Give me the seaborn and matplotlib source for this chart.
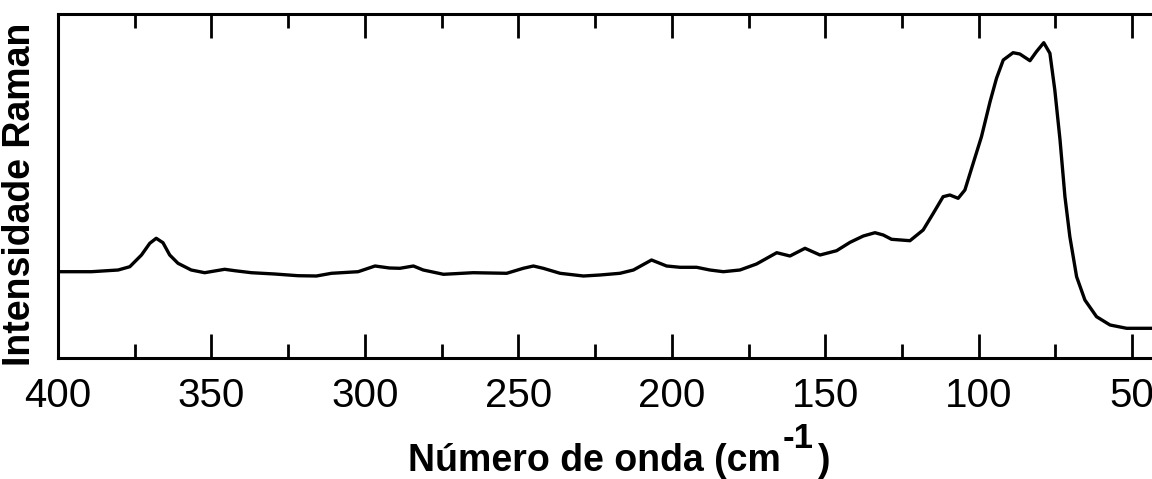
import matplotlib
matplotlib.use("Agg")
import matplotlib.pyplot as plt
import seaborn as sns
import pandas as pd
from matplotlib.ticker import MultipleLocator

wavenumber = [400, 389.1, 380.4, 376.6, 372.8, 370.1, 368, 365.8, 363.6, 360.9,
              356.6, 352.2, 345.7, 342.4, 337, 329.4, 321.8, 315.8, 310.9, 302.2,
              296.7, 292, 288.6, 284.2, 281, 274.4, 264.7, 253.8, 248.4, 245.1,
              241.9, 236.4, 228.8, 223.4, 216.9, 212.5, 206.6, 201.7, 197.3, 191.9,
              187.6, 183.2, 177.8, 172.4, 165.8, 161.5, 156.6, 151.7, 146.3, 141.9,
              137.6, 133.8, 131.1, 128.4, 122.4, 118.1, 114.8, 111.6, 109.4, 106.7,
              104.5, 101.8, 99.1, 96.3, 94.2, 92, 88.8, 86.6, 83.3, 81.2, 78.8,
              76.8, 75.2, 73.5, 71.9, 70.3, 68.1, 65.4, 61.6, 57.2, 51.8, 43.6]
intensity = [86.3, 86.3, 88, 91.3, 103, 114.7, 119.7, 115.3, 103, 94.7,
             88, 85.3, 88.7, 87.3, 85.3, 84, 82.3, 82, 84.7, 86.3,
             92, 90, 89.7, 92, 88, 83.7, 85.3, 84.7, 89.7, 92,
             89.7, 84.7, 82, 83, 84.7, 88, 98, 92, 90.7, 90.7,
             88, 86.3, 88, 94, 105.3, 102, 109.7, 103, 107.3, 115.7,
             122, 125.3, 123, 118.7, 117.3, 128, 144.7, 161.3, 163, 159.7,
             168, 194.7, 221.3, 256.3, 279.7, 298, 305.3, 304, 297.3, 306.3, 315.3,
             304.7, 268, 218, 161.3, 121.3, 81.3, 58, 41.3, 33, 29.7, 29.7]
xticks = [400, 350, 300, 250, 200, 150, 100, 50]
xlabel_main = 'Número de onda (cm'
xlabel_sup = '-1'
xlabel_end = ')'
ylabel = 'Intensidade Raman'

df = pd.DataFrame({"wavenumber": wavenumber, "intensity": intensity})

sns.set_style("ticks")
plt.rcParams['font.family'] = ['Liberation Sans', 'DejaVu Sans']
plt.rcParams['text.color'] = 'black'
plt.rcParams['axes.labelcolor'] = 'black'
plt.rcParams['xtick.color'] = 'black'

fig = plt.figure(figsize=(11.52, 4.79), dpi=100)
ax = fig.add_axes([58/1152, 121/479, 1102/1152, 344/479])

sns.lineplot(data=df, x="wavenumber", y="intensity", ax=ax, color="black",
             linewidth=2.4, sort=False, estimator=None)
for l in ax.lines:
    l.set_solid_joinstyle('round')

px_per_unit = 3.069
ax.set_xlim(400, 400 - 1102/px_per_unit)
ax.set_ylim(0, 344)
ax.set_xticks(xticks)
ax.set_xticklabels([str(t) for t in xticks])
ax.xaxis.set_minor_locator(MultipleLocator(25))
ax.set_yticks([])
ax.set_xlabel('')
ax.tick_params(axis='x', which='major', direction='in', length=17, width=2,
               top=True, bottom=True, labelsize=29, pad=14, colors='black')
ax.tick_params(axis='x', which='minor', direction='in', length=10, width=2,
               top=True, bottom=True, colors='black')
for s in ax.spines.values():
    s.set_linewidth(2.2)
    s.set_color('black')

# x label built from three text pieces (raised "-1" superscript)
t1 = fig.text(408/1152, 8/479, xlabel_main, fontsize=27, fontweight='bold',
              ha='left', va='baseline')
t2 = ax.annotate(xlabel_sup, xy=(1, 0), xycoords=t1, xytext=(1, 22),
                 textcoords='offset points', fontsize=25, fontweight='bold',
                 ha='left', va='baseline', annotation_clip=False)
t3 = ax.annotate(xlabel_end, xy=(1, 0), xycoords=(t2, t1), xytext=(3, 0),
                 textcoords='offset points', fontsize=27, fontweight='bold',
                 ha='left', va='bottom', annotation_clip=False)

ax.set_ylabel(ylabel, fontsize=27, fontweight='bold', color='black')
ax.yaxis.set_label_coords(-0.018, 0.477)

fig.savefig("out.png", dpi=100)
